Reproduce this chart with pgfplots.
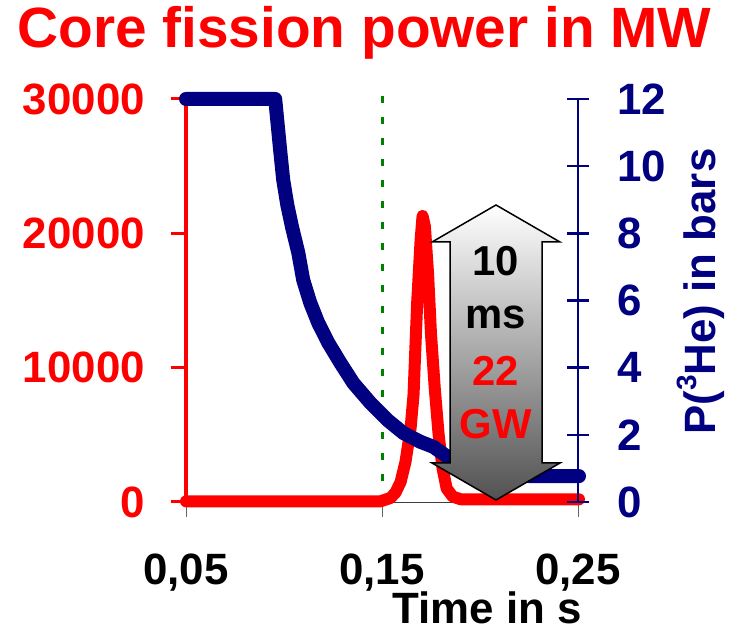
\documentclass[border=0pt]{standalone}
\usepackage{pgfplots}
\pgfplotsset{compat=1.18}
\usepackage{fontspec}
\setmainfont{Liberation Sans}
\definecolor{navy}{RGB}{0,0,128}
\definecolor{dgreen}{RGB}{0,128,0}
\newcommand{\bigfnt}{\fontsize{44}{50}\selectfont\bfseries}

\begin{document}
\begin{tikzpicture}
\path[use as bounding box] (0bp,0bp) rectangle (744bp,631bp);
\begin{axis}[
  at={(186bp,129bp)}, anchor=south west,
  scale only axis, width=392bp, height=403bp,
  xmin=0.05, xmax=0.25, ymin=0, ymax=30000,
  axis x line*=bottom, axis y line*=left,
  axis line style={-},
  clip=false,
  scaled y ticks=false, scaled x ticks=false,
  xtick={0.05,0.15,0.25}, xticklabels={{0,05},{0,15},{0,25}},
  ytick={0,10000,20000,30000}, yticklabels={0,10000,20000,30000},
  minor tick num=0,
  tick align=outside, major tick length=15bp,
  x axis line style={black!75, line width=0.8bp},
  y axis line style={red, line width=3bp},
  xtick style={black!60, line width=0.8bp},
  ytick style={red, line width=3bp},
  /pgf/number format/assume math mode=true,
  tick label style={font=\bigfnt},
  yticklabel style={red, anchor=east, inner sep=0pt, xshift=-26bp},
  xticklabel style={black, anchor=north, inner sep=0pt, yshift=-37bp},
]
\addplot[dgreen, line width=3bp, dash pattern=on 7bp off 14bp] coordinates {(0.1503,0) (0.1503,30300)};
\addplot[red, line width=12bp, line cap=round, line join=round] coordinates {
(0.05,50) (0.1492,50) (0.1543,300) (0.1569,700) (0.1595,1500) (0.1620,3000)
(0.1646,5500) (0.1661,8000) (0.1669,11000) (0.1680,15000) (0.1697,19500)
(0.1707,21300) (0.1719,20500) (0.1735,17000) (0.1750,12500) (0.1769,8500)
(0.1789,5000) (0.1809,2500) (0.1830,1000) (0.1861,400) (0.1902,200) (0.2505,200)};
\end{axis}
\begin{axis}[
  at={(186bp,129bp)}, anchor=south west,
  scale only axis, width=392bp, height=403bp,
  xmin=0.05, xmax=0.25, ymin=0, ymax=12,
  axis x line=none, axis y line*=right,
  axis line style={-},
  clip=false,
  ytick={0,2,4,6,8,10,12},
  tick align=center, major tick length=22bp,
  y axis line style={navy, line width=2.5bp},
  ytick style={navy, line width=2.5bp},
  /pgf/number format/assume math mode=true,
  yticklabel style={navy, font=\bigfnt, anchor=west, inner sep=0pt, xshift=28bp},
]
\addplot[navy, line width=14bp, line cap=round, line join=round] coordinates {
(0.05,12) (0.0955,12) (0.0965,11.4) (0.0980,10.5) (0.0996,9.59) (0.1017,8.84)
(0.1042,8.16) (0.1073,7.42) (0.1098,6.61) (0.1134,5.93) (0.1175,5.33)
(0.1226,4.74) (0.1288,4.14) (0.1354,3.54) (0.1441,2.95) (0.1528,2.44)
(0.1610,2.05) (0.1697,1.79) (0.1763,1.64) (0.1835,1.34) (0.1953,1.01)
(0.2106,0.83) (0.2260,0.77) (0.2505,0.77)};
\end{axis}
\begin{scope}[x=1bp,y=1bp]
\shade[top color=white, middle color=black!30, bottom color=black!68, draw=black, line width=1.5bp]
 (496,426) -- (560,389) -- (542,389) -- (542,168) -- (560,168) -- (496,131)
 -- (432,168) -- (450,168) -- (450,389) -- (432,389) -- cycle;
\node[anchor=base, inner sep=0pt, font=\fontsize{42}{48}\selectfont\bfseries] at (496,356) {10};
\node[anchor=base, inner sep=0pt, font=\fontsize{42}{48}\selectfont\bfseries] at (496,303) {ms};
\node[anchor=base, inner sep=0pt, red, font=\fontsize{42}{48}\selectfont\bfseries] at (496,246) {22};
\node[anchor=base, inner sep=0pt, red, font=\fontsize{42}{48}\selectfont\bfseries] at (496,193) {GW};
\node[anchor=base, inner sep=0pt, red, font=\fontsize{57}{62}\selectfont\bfseries] at (364.5,583) {Core fission power in MW};
\node[anchor=base east, inner sep=0pt, font=\bigfnt] at (582,8) {Time in s};
\node[anchor=base, inner sep=0pt, rotate=90, navy, font=\bigfnt] at (715,339.5) {P(\raisebox{0.42em}{\fontsize{28}{30}\selectfont\bfseries 3}He) in bars};
\end{scope}
\end{tikzpicture}
\end{document}
